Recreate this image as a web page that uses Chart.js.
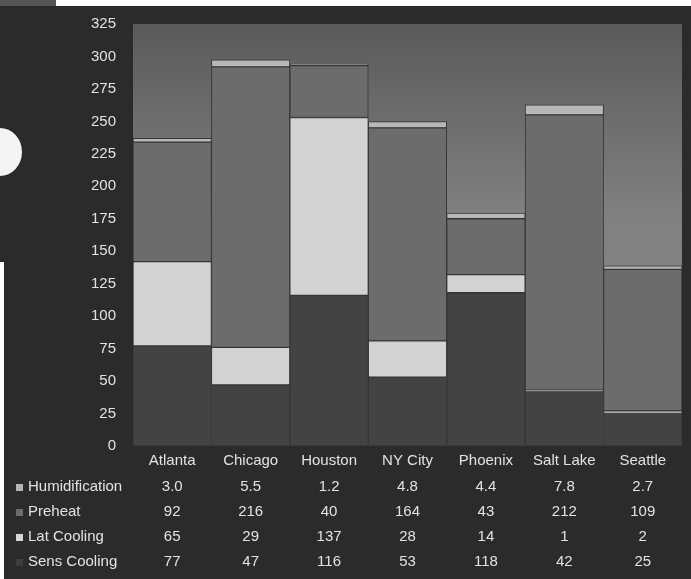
<!DOCTYPE html>
<html>
<head>
<meta charset="utf-8">
<script src="https://cdn.jsdelivr.net/npm/chart.js@4"></script>
<style>
  html, body { margin: 0; padding: 0; background: #fff; }
  #wrap { position: relative; width: 691px; height: 579px; overflow: hidden; }
  #panel { position: absolute; left: 0; top: 6px; width: 691px; height: 573px; background: #2b2b2b; }
  #corner { position: absolute; left: 0; top: 0; width: 56px; height: 6px; background: #555; }
  #edge { position: absolute; left: 0; top: 262px; width: 4px; height: 317px; background: #fff; }
  #dot { position: absolute; left: -22px; top: 128px; width: 44px; height: 48px; border-radius: 50%; background: #f4f4f4; }
  canvas { position: absolute; left: 0; top: 0; }
</style>
</head>
<body>
<div id="wrap">
  <div id="panel"></div>
  <div id="corner"></div>
  <div id="edge"></div>
  <div id="dot"></div>
  <canvas id="chart" width="691" height="579"></canvas>
</div>
<script>
// cities along the x axis
const cities = ["Atlanta", "Chicago", "Houston", "NY City", "Phoenix", "Salt Lake", "Seattle"];

// series, bottom of the stack first
const sensCooling = [77, 47, 116, 53, 118, 42, 25];
const latCooling = [65, 29, 137, 28, 14, 1, 2];
const preheat = [92, 216, 40, 164, 43, 212, 109];
const humidification = [3.0, 5.5, 1.2, 4.8, 4.4, 7.8, 2.7];

const yTicks = [0, 25, 50, 75, 100, 125, 150, 175, 200, 225, 250, 275, 300, 325];

const textColor = "#e2e2e2";
const family = "'Liberation Sans', Arial, sans-serif";
const font = "15px " + family;

// table rows drawn under the x labels, top row first
const tableRows = [
  { label: "Humidification", values: humidification, square: "#b4b4b4", digits: 1 },
  { label: "Preheat", values: preheat, square: "#6c6c6c", digits: 0 },
  { label: "Lat Cooling", values: latCooling, square: "#d6d6d6", digits: 0 },
  { label: "Sens Cooling", values: sensCooling, square: "#3e3e3e", digits: 0 },
];

const plotBackground = {
  id: "plotBackground",
  beforeDatasetsDraw(chart) {
    const { ctx, chartArea: a } = chart;
    const g = ctx.createLinearGradient(0, a.top, 0, a.bottom);
    g.addColorStop(0, "#5a5a5a");
    g.addColorStop(0.45, "#808080");
    g.addColorStop(1, "#8a8a8a");
    ctx.save();
    ctx.fillStyle = g;
    ctx.fillRect(a.left, a.top, a.right - a.left, a.bottom - a.top);
    ctx.restore();
  },
};

const dataTable = {
  id: "dataTable",
  afterDraw(chart) {
    const ctx = chart.ctx;
    const x = chart.scales.x;
    ctx.save();
    ctx.font = font;
    ctx.textBaseline = "middle";
    tableRows.forEach((row, r) => {
      const y = 487 + r * 25;
      ctx.fillStyle = row.square;
      ctx.fillRect(16, y - 3, 7, 7);
      ctx.fillStyle = textColor;
      ctx.textAlign = "left";
      ctx.fillText(row.label, 28, y);
      ctx.textAlign = "center";
      row.values.forEach((v, i) => {
        ctx.fillText(v.toFixed(row.digits), x.getPixelForValue(i), y);
      });
    });
    ctx.restore();
  },
};

function makeSet(label, data, color) {
  return {
    label: label,
    data: data,
    backgroundColor: color,
    borderColor: "#363636",
    borderWidth: 1,
    borderSkipped: false,
    barPercentage: 1,
    categoryPercentage: 1,
  };
}

new Chart("chart", {
  type: "bar",
  data: {
    labels: cities,
    datasets: [
      makeSet("Sens Cooling", sensCooling, "#434343"),
      makeSet("Lat Cooling", latCooling, "#d2d2d2"),
      makeSet("Preheat", preheat, "#6c6c6c"),
      makeSet("Humidification", humidification, "#b8b8b8"),
    ],
  },
  options: {
    responsive: false,
    animation: false,
    layout: { padding: { left: 0, right: 9, top: 24, bottom: 0 } },
    plugins: {
      legend: { display: false },
      tooltip: { enabled: false },
    },
    scales: {
      x: {
        stacked: true,
        grid: { display: false },
        border: { display: false },
        ticks: { color: textColor, font: { size: 15, family: family }, padding: -2, maxRotation: 0 },
        afterFit(scale) { scale.height = 133; },
      },
      y: {
        stacked: true,
        min: 0,
        max: 325,
        grid: { display: false },
        border: { display: false },
        afterBuildTicks(scale) { scale.ticks = yTicks.map(v => ({ value: v })); },
        ticks: { color: textColor, font: { size: 15, family: family }, padding: 9 },
        afterFit(scale) { scale.width = 133; },
      },
    },
  },
  plugins: [plotBackground, dataTable],
});
</script>
</body>
</html>
